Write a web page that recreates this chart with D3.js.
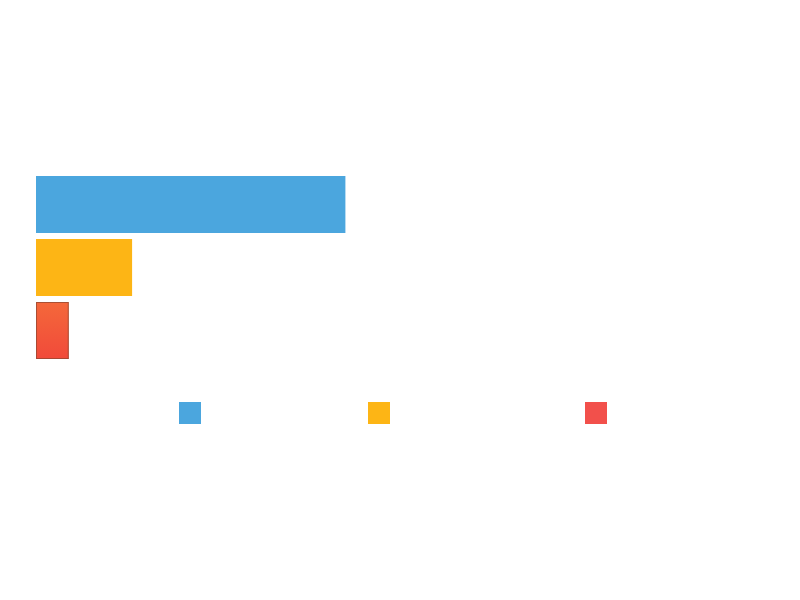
<!DOCTYPE html>
<html><head><meta charset="utf-8">
<script src="https://cdn.jsdelivr.net/npm/d3@7"></script>
<style>html,body{margin:0;padding:0;background:#fff;}svg{display:block;}</style>
</head><body>
<svg id="chart" width="800" height="600"></svg>
<script>
const categories = ["A", "B", "C"];
const values = [42.5, 13.2, 4.5];
const colors = ["#4ba6de", "#fdb515", "#f2504b"];
const legendLabels = ["A", "B", "C"];

const svg = d3.select("#chart");
const W = 800, H = 600;
const margin = {left: 36, right: 36, top: 176, bottom: 241};

const x = d3.scaleLinear().domain([0, 100]).range([margin.left, W - margin.right]);
const y = d3.scaleBand().domain(categories).range([margin.top, H - margin.bottom]).paddingInner(6 / 63).paddingOuter(0);

const defs = svg.append("defs");
const grad = defs.append("linearGradient").attr("id", "redGrad").attr("x1", 0).attr("y1", 0).attr("x2", 0).attr("y2", 1);
grad.append("stop").attr("offset", "0%").attr("stop-color", "#f4683a");
grad.append("stop").attr("offset", "100%").attr("stop-color", "#f14a3a");

const data = categories.map((c, i) => ({c, v: values[i], color: colors[i], i}));

svg.append("g").selectAll("rect").data(data).join("rect")
  .attr("x", x(0))
  .attr("y", d => Math.round(y(d.c)))
  .attr("width", d => x(d.v) - x(0))
  .attr("height", Math.round(y.bandwidth()))
  .attr("fill", d => d.i === 2 ? "url(#redGrad)" : d.color);

// edge outline on the smallest bar
const last = data[2];
svg.append("rect")
  .attr("x", x(0) + 0.5).attr("y", Math.round(y(last.c)) + 0.5)
  .attr("width", x(last.v) - x(0) - 1).attr("height", Math.round(y.bandwidth()) - 1)
  .attr("fill", "none").attr("stroke", "#8a4630").attr("stroke-opacity", 0.7).attr("stroke-width", 1);

// legend
const legendX = [179, 368, 585];
const lg = svg.append("g").selectAll("g").data(legendLabels).join("g")
  .attr("transform", (d, i) => `translate(${legendX[i]},402)`);
lg.append("rect").attr("width", 22).attr("height", 22).attr("fill", (d, i) => colors[i]);
lg.append("text").attr("x", 30).attr("y", 16).attr("fill", "#ffffff")
  .attr("font-family", "Open Sans, sans-serif").attr("font-size", 14).text(d => d);
</script>
</body></html>
